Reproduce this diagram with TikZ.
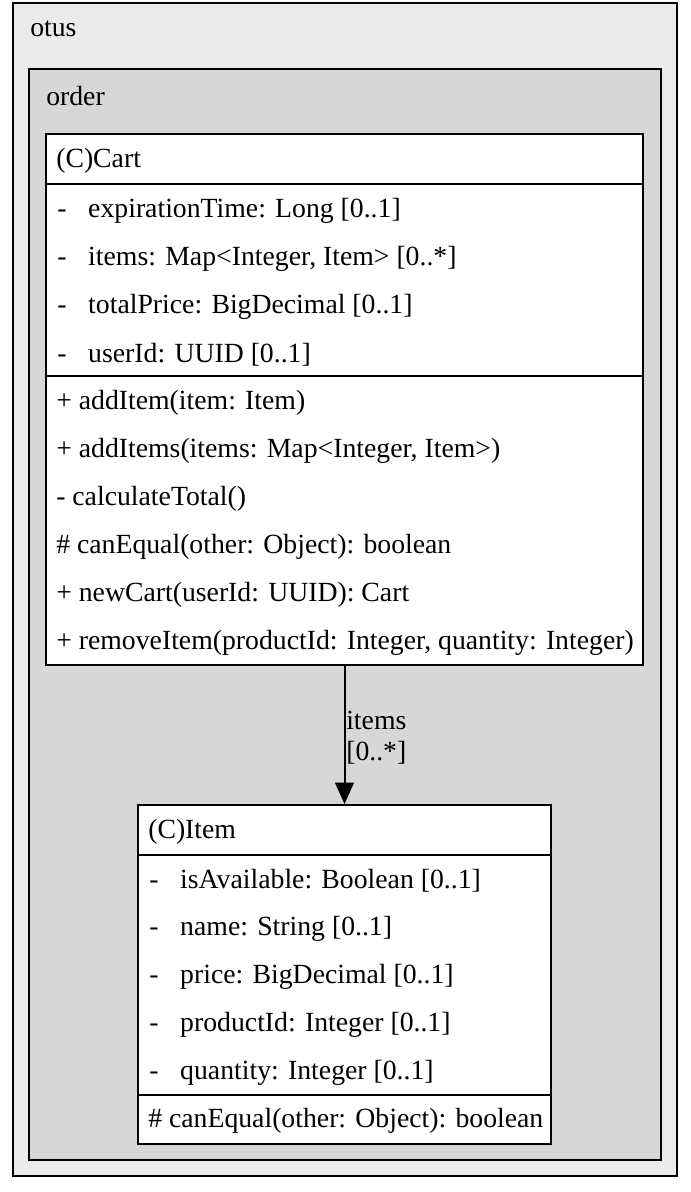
\documentclass[tikz,border=0pt]{standalone}
\usepackage{fontspec}
\setmainfont{Liberation Serif}
\usetikzlibrary{fit,arrows.meta}
\definecolor{otusfill}{RGB}{235,235,235}
\definecolor{orderfill}{RGB}{215,215,215}
\newcommand{\attr}[1]{\makebox[23.25pt][l]{-}#1}

\begin{document}
\begin{tikzpicture}[x=0.75pt,y=-0.75pt,
	pkg/.style={draw=black,line width=1.5pt,inner sep=0pt},
	cls/.style={draw=black,fill=white,line width=1.5pt,inner sep=0pt},
	txt/.style={anchor=west,inner sep=0pt,yshift=-1.5pt,font=\fontsize{20.8}{25}\selectfont},
	sep/.style={line width=1.5pt}]
	\useasboundingbox (0,0) rectangle (690,1192);
	% packages
	\node[pkg,fill=otusfill,fit={(13,3)(677,1176)}] (otus) {};
	\node[txt] (otuslabel) at (30,27) {otus};
	\node[pkg,fill=orderfill,fit={(29,69)(661,1160)}] (order) {};
	\node[txt] (orderlabel) at (46,94) {order};
	% Cart
	\node[cls,fit={(46,134)(643,665)}] (cart) {};
	\draw[sep] (46,184) -- (643,184);
	\draw[sep] (46,376) -- (643,376);
	\node[txt] (cartname) at (56,159) {(C)Cart};
	\node[txt] (cartexp) at (57,209) {\attr{expirationTime: Long [0..1]}};
	\node[txt] (cartitems) at (57,257) {\attr{items: Map<Integer, Item> [0..*]}};
	\node[txt] (cartprice) at (57,305) {\attr{totalPrice: BigDecimal [0..1]}};
	\node[txt] (cartuser) at (57,353) {\attr{userId: UUID [0..1]}};
	\node[txt] (cartadd) at (56,401) {+ addItem(item: Item)};
	\node[txt] (cartadds) at (56,449) {+ addItems(items: Map<Integer, Item>)};
	\node[txt] (cartcalc) at (56,497) {- calculateTotal()};
	\node[txt] (carteq) at (56,545) {\# canEqual(other: Object): boolean};
	\node[txt] (cartnew) at (56,593) {+ newCart(userId: UUID): Cart};
	\node[txt] (cartrem) at (56,641) {+ removeItem(productId: Integer, quantity: Integer)};
	% Item
	\node[cls,fit={(138,805)(551,1144)}] (item) {};
	\draw[sep] (138,855) -- (551,855);
	\draw[sep] (138,1095) -- (551,1095);
	\node[txt] (itemname) at (148,830) {(C)Item};
	\node[txt] (itemavail) at (149,879) {\attr{isAvailable: Boolean [0..1]}};
	\node[txt] (itemnm) at (149,927) {\attr{name: String [0..1]}};
	\node[txt] (itemprice) at (149,975) {\attr{price: BigDecimal [0..1]}};
	\node[txt] (itemprod) at (149,1023) {\attr{productId: Integer [0..1]}};
	\node[txt] (itemqty) at (149,1071) {\attr{quantity: Integer [0..1]}};
	\node[txt] (itemeq) at (148,1119) {\# canEqual(other: Object): boolean};
	% association
	\draw[line width=1.5pt,-{Triangle[length=16pt,width=14pt]}] (cart.south) -- (item.north);
	\node[txt] (assocname) at (346,718) {items};
	\node[txt] (assocmult) at (346,751) {[0..*]};
\end{tikzpicture}
\end{document}
